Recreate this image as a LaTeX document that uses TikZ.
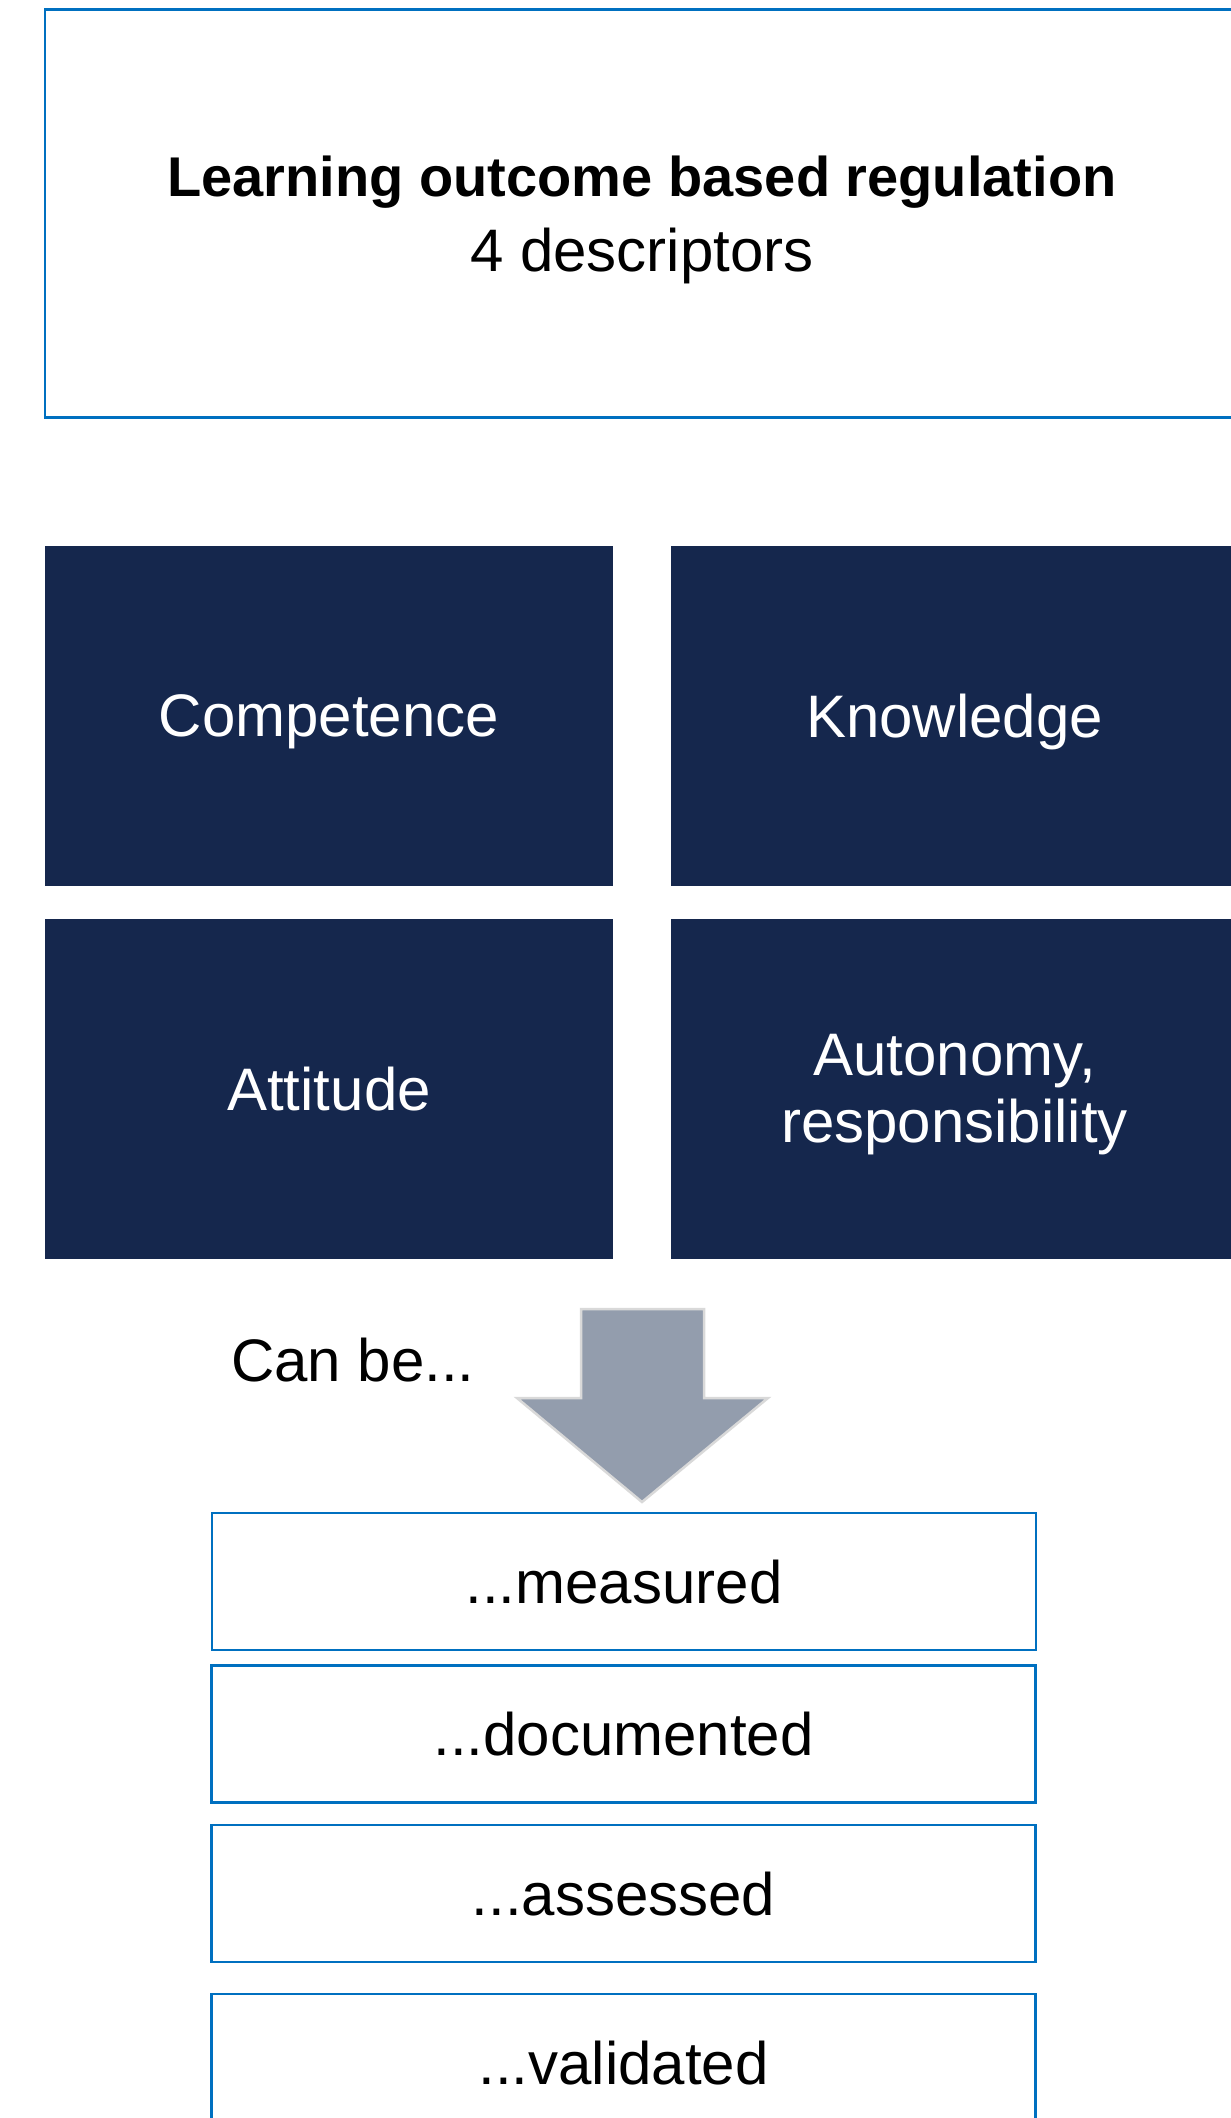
\documentclass[tikz,border=0pt]{standalone}
\usepackage{fontspec}
\setmainfont{Liberation Sans}
\definecolor{navy}{HTML}{15274D}
\definecolor{edgeblue}{HTML}{0070C0}
\definecolor{arrowgray}{HTML}{939DAD}
\definecolor{arrowedge}{HTML}{D9D9D9}
\begin{document}
\begin{tikzpicture}[x=1pt, y=-1pt,
  outlinebox/.style={draw=edgeblue, line width=2.5pt, fill=white,
                     inner sep=0pt, align=center, text depth=0pt},
  descbox/.style={fill=navy, text=white, inner sep=0pt, align=center,
                  text depth=0pt, minimum width=568pt, minimum height=340pt},
  stagebox/.style={outlinebox, minimum width=824pt, minimum height=137pt},
  every node/.style={font=\fontsize{60}{67.5}\selectfont}]
  \useasboundingbox (0,0) rectangle (1231,2118);
  \clip (0,0) rectangle (1231,2118);

  % heading box runs past the right edge
  \node[outlinebox, minimum width=1194pt, minimum height=408pt,
        font=\fontsize{60}{75}\selectfont] (regulation) at (642,213.5)
        {{\bfseries\fontsize{56}{75}\selectfont Learning outcome based regulation}\\4 descriptors};

  % the four descriptors
  \node[descbox] (competence) at (329,716) {Competence};
  \node[descbox] (knowledge) at (954.5,716) {Knowledge};
  \node[descbox] (attitude) at (329,1088.5) {Attitude};
  \node[descbox] (autonomy) at (954.5,1088.5) {Autonomy,\\responsibility};

  % block arrow
  \draw[fill=arrowgray, draw=arrowedge, line width=2.5pt]
    (581,1309) -- (704,1309) -- (704,1398) -- (768,1398) -- (642,1502) --
    (517,1398) -- (581,1398) -- cycle;
  \node[anchor=west, inner sep=0pt] (canbe) at (231,1360) {Can be...};

  % what can be done with them
  \node[stagebox] (measured) at (624,1581.5) {...measured};
  \node[stagebox] (documented) at (623.5,1734) {...documented};
  \node[stagebox] (assessed) at (623.5,1893.5) {...assessed};
  \node[stagebox] (validated) at (623.5,2062.5) {...validated};
\end{tikzpicture}
\end{document}
